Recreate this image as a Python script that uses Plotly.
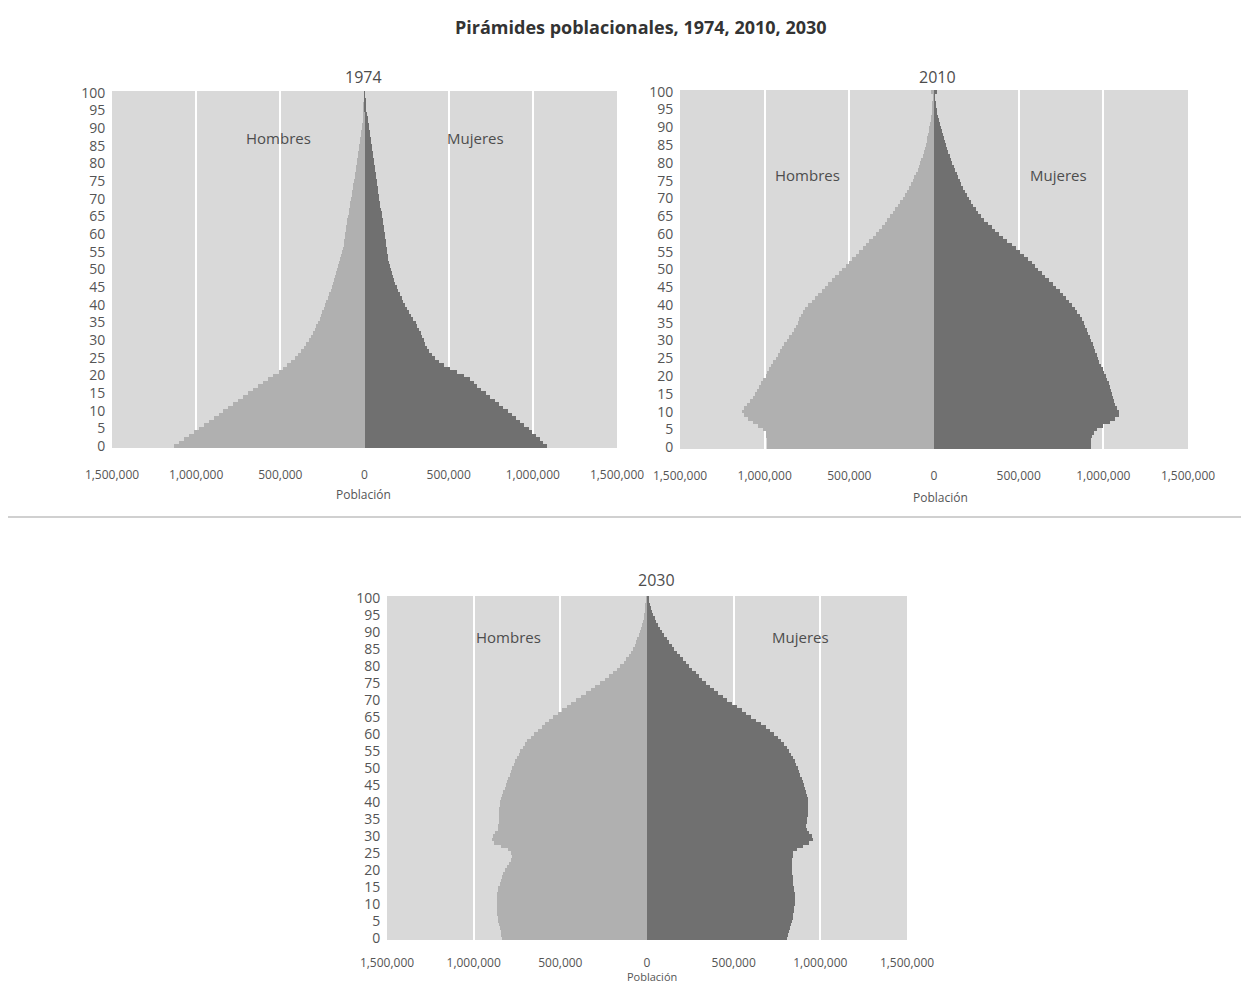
import plotly.graph_objects as go

# ---------------- data (thousands of people, single-year ages 0..100) ----------------
AGES = list(range(101))

MEN_1974 = [1130, 1100, 1070, 1040, 1010, 985, 955, 925, 895, 865,
            840, 810, 780, 750, 720, 695, 665, 635, 605, 575,
            545, 510, 485, 460, 435, 412, 393, 375, 360, 345,
            332, 320, 308, 297, 287, 277, 266, 258, 250, 242,
            234, 226, 218, 210, 202, 195, 188, 180, 173, 167,
            161, 155, 150, 145, 140, 134, 128, 124, 120, 117,
            114, 111, 108, 105, 102, 98, 95, 91, 88, 84,
            80, 77, 73, 70, 66, 62, 59, 56, 53, 50,
            47, 44, 41, 38, 34, 31, 28, 25, 22, 19,
            16, 13, 11, 9, 7, 5, 4, 3, 2, 1, 0]
WOMEN_1974 = [1085, 1060, 1040, 1020, 995, 975, 950, 925, 900, 875,
              850, 825, 800, 775, 745, 720, 695, 670, 650, 625,
              590, 550, 510, 475, 445, 420, 400, 385, 372, 362,
              352, 342, 333, 323, 313, 303, 290, 275, 262, 250,
              240, 230, 220, 210, 200, 192, 184, 176, 168, 161,
              155, 150, 145, 141, 137, 134, 131, 128, 125, 122,
              119, 116, 113, 110, 107, 104, 101, 98, 95, 92,
              89, 86, 83, 80, 77, 73, 70, 67, 64, 61,
              58, 55, 51, 48, 45, 42, 39, 36, 33, 30,
              27, 24, 21, 18, 14, 11, 8, 6, 4, 2, 1]

MEN_2010 = [985, 985, 988, 990, 995, 1010, 1040, 1070, 1100, 1120,
            1135, 1125, 1105, 1085, 1070, 1060, 1045, 1032, 1020, 1008,
            995, 985, 972, 960, 948, 935, 922, 910, 897, 885,
            870, 855, 840, 826, 815, 805, 795, 785, 775, 760,
            742, 722, 702, 683, 664, 645, 625, 603, 582, 562,
            542, 522, 502, 482, 461, 441, 420, 400, 381, 362,
            343, 325, 308, 291, 275, 258, 242, 228, 213, 199,
            186, 172, 160, 148, 137, 126, 116, 106, 97, 89,
            81, 74, 67, 61, 55, 49, 44, 40, 36, 32,
            28, 24, 20, 17, 14, 11, 8, 6, 4, 3, 18]
WOMEN_2010 = [925, 928, 930, 935, 945, 965, 1000, 1040, 1070, 1090,
              1092, 1080, 1068, 1062, 1057, 1052, 1047, 1040, 1032, 1024,
              1016, 1006, 996, 986, 975, 968, 960, 952, 945, 936,
              928, 920, 912, 903, 894, 884, 872, 860, 846, 831,
              815, 798, 781, 762, 742, 722, 700, 679, 658, 638,
              617, 597, 576, 553, 529, 506, 482, 458, 434, 410,
              386, 363, 340, 318, 298, 280, 262, 247, 233, 220,
              207, 195, 184, 173, 162, 152, 143, 134, 125, 116,
              108, 100, 93, 85, 78, 71, 64, 57, 51, 45,
              39, 34, 29, 24, 19, 15, 11, 8, 5, 3, 20]

MEN_2030 = [836, 840, 845, 850, 855, 858, 862, 865, 867, 868,
            868, 867, 866, 865, 862, 857, 850, 843, 836, 830,
            820, 808, 795, 785, 780, 782, 800, 840, 880, 895,
            890, 875, 862, 858, 856, 855, 854, 853, 852, 850,
            847, 843, 838, 830, 822, 814, 806, 800, 793, 786,
            778, 770, 760, 750, 740, 730, 718, 705, 690, 672,
            652, 630, 608, 586, 563, 540, 516, 490, 463, 436,
            408, 380, 352, 325, 298, 270, 243, 218, 195, 173,
            153, 135, 119, 105, 93, 82, 72, 63, 55, 47,
            40, 34, 28, 23, 19, 15, 12, 9, 7, 5, 3]
WOMEN_2030 = [807, 812, 818, 825, 830, 835, 840, 843, 846, 849,
              851, 853, 853, 852, 850, 847, 844, 842, 840, 838,
              837, 836, 836, 837, 840, 845, 865, 900, 935, 957,
              950, 935, 922, 920, 922, 925, 928, 930, 931, 931,
              930, 929, 925, 920, 913, 906, 899, 892, 885, 878,
              870, 862, 852, 842, 830, 818, 805, 790, 773, 754,
              733, 710, 685, 658, 630, 602, 574, 546, 518, 490,
              462, 436, 411, 387, 364, 342, 320, 300, 280, 261,
              243, 225, 208, 191, 174, 158, 143, 128, 114, 100,
              87, 75, 64, 54, 44, 35, 28, 21, 16, 12, 9]

YEARS = ["1974", "2010", "2030"]
X_TICKVALS = [-1500000, -1000000, -500000, 0, 500000, 1000000, 1500000]
X_TICKTEXT = ["1,500,000", "1,000,000", "500,000", "0", "500,000", "1,000,000", "1,500,000"]
Y_TICKVALS = list(range(0, 101, 5))
TITLE = "Pirámides poblacionales, 1974, 2010, 2030"
X_TITLE = "Población"
MEN_LABEL = "Hombres"
WOMEN_LABEL = "Mujeres"

# ---------------- style ----------------
PAGE_W, PAGE_H = 1249, 994
OFF = 8  # default page margin around the plot div
FW, FH = PAGE_W - 2 * OFF, PAGE_H - 2 * OFF
MEN_COLOR = "#b0b0b0"
WOMEN_COLOR = "#707070"
BG = "#d9d9d9"
TXT = "#4d4d4d"
FONT = "Open Sans"


def px_x(p):
    return (p - OFF) / FW


def px_y(p):
    return 1 - (p - OFF) / FH


# panel boxes in page pixels: (left, right, top, bottom)
BOXES = [(112, 617, 91, 448), (680, 1188, 90, 449), (387, 907, 596, 940)]
LABEL_POS = [((278, 138), (475, 138)), ((808, 175), (1058, 175)), ((508, 637), (800, 637))]
TITLE_POS = [(363, 77), (937, 77), (657, 580)]
XTITLE_POS = [(363, 494), (940, 497), (652, 976)]
XTICK_LEN = [16, 16, 12]
XTITLE_SIZE = [12, 12, 11]

series = [(MEN_1974, WOMEN_1974), (MEN_2010, WOMEN_2010), (MEN_2030, WOMEN_2030)]

fig = go.Figure()
annotations = []
layout_axes = {}
for i, (yr, (men, women), box) in enumerate(zip(YEARS, series, BOXES)):
    sfx = "" if i == 0 else str(i + 1)
    xa, ya = "x" + sfx, "y" + sfx
    fig.add_trace(go.Bar(y=AGES, x=[-v * 1000 for v in men], orientation="h", width=1,
                         marker=dict(color=MEN_COLOR, line=dict(width=0)),
                         xaxis=xa, yaxis=ya, showlegend=False, name=MEN_LABEL))
    fig.add_trace(go.Bar(y=AGES, x=[v * 1000 for v in women], orientation="h", width=1,
                         marker=dict(color=WOMEN_COLOR, line=dict(width=0)),
                         xaxis=xa, yaxis=ya, showlegend=False, name=WOMEN_LABEL))
    l, r, t, b = box
    layout_axes["xaxis" + sfx] = dict(
        domain=[px_x(l), px_x(r)], anchor=ya, range=[-1500000, 1500000], automargin=False,
        tickvals=X_TICKVALS, ticktext=X_TICKTEXT, showgrid=True, gridcolor="white",
        gridwidth=2, zeroline=True, zerolinecolor="#eeeeee", zerolinewidth=1,
        tickfont=dict(family=FONT, size=12, color="#555"), ticks="outside",
        ticklen=XTICK_LEN[i], tickcolor="rgba(0,0,0,0)", showline=False, fixedrange=True)
    layout_axes["yaxis" + sfx] = dict(
        domain=[px_y(b), px_y(t)], anchor=xa, range=[-0.5, 100.5], automargin=False,
        tickvals=Y_TICKVALS, showgrid=False, zeroline=False,
        tickfont=dict(family=FONT, size=14, color="#555"), ticks="outside", ticklen=3,
        tickcolor="rgba(0,0,0,0)", fixedrange=True)
    (hx, hy), (mx, my) = LABEL_POS[i]
    for txt, x0, y0 in [(MEN_LABEL, hx, hy), (WOMEN_LABEL, mx, my)]:
        annotations.append(dict(text=txt, x=px_x(x0), y=px_y(y0), xref="paper", yref="paper",
                                showarrow=False, xanchor="center", yanchor="middle",
                                font=dict(family=FONT, size=15, color=TXT)))
    tx, ty = TITLE_POS[i]
    annotations.append(dict(text=yr, x=px_x(tx), y=px_y(ty), xref="paper", yref="paper",
                            showarrow=False, xanchor="center", yanchor="middle",
                            font=dict(family=FONT, size=16, color=TXT)))
    ttx, tty = XTITLE_POS[i]
    annotations.append(dict(text=X_TITLE, x=px_x(ttx), y=px_y(tty), xref="paper", yref="paper",
                            showarrow=False, xanchor="center", yanchor="middle",
                            font=dict(family=FONT, size=XTITLE_SIZE[i], color="#555")))

annotations.append(dict(text="<b>" + TITLE + "</b>", x=px_x(641), y=px_y(27), xref="paper",
                        yref="paper", showarrow=False, xanchor="center", yanchor="middle",
                        font=dict(family=FONT, size=18, color="#333")))

fig.update_layout(
    width=FW, height=FH, autosize=False, margin=dict(l=0, r=0, t=0, b=0, autoexpand=False),
    paper_bgcolor="white", plot_bgcolor=BG, barmode="overlay", bargap=0,
    annotations=annotations,
    shapes=[dict(type="line", xref="paper", yref="paper", x0=0, x1=1,
                 y0=px_y(517), y1=px_y(517), line=dict(color="#d0d0d0", width=2))],
    **layout_axes)

fig.write_html("out.html")
